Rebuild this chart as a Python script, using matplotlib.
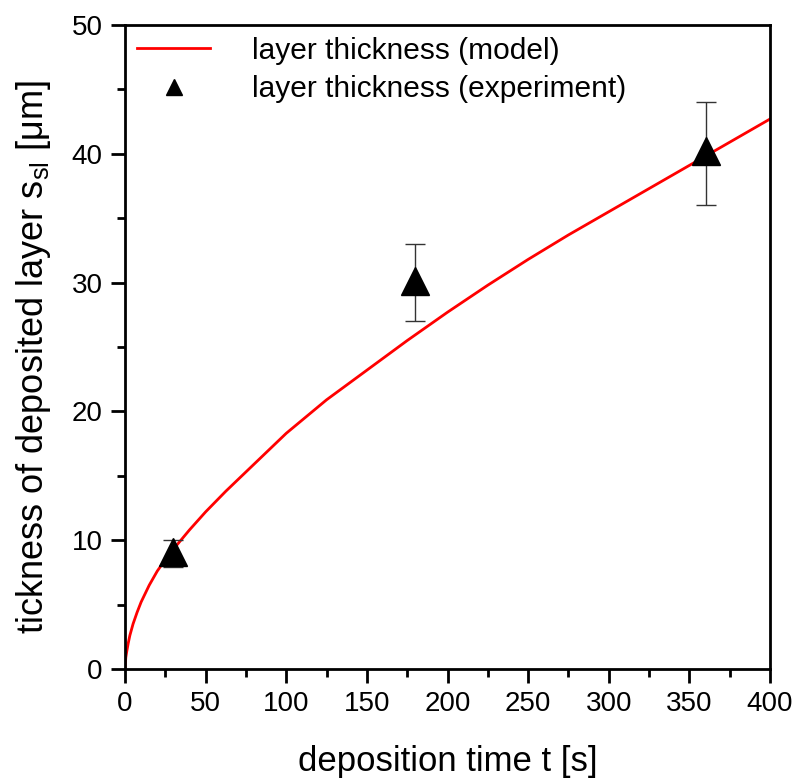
import matplotlib.pyplot as plt
from matplotlib.lines import Line2D

plt.rcParams['font.family'] = ['Liberation Sans', 'DejaVu Sans']

# model curve
t_model = [0, 0.5, 1, 2, 3, 5, 7.5, 10, 15, 20, 25, 30, 40, 50, 62.5, 75, 87.5, 100,
           125, 150, 175, 200, 225, 250, 275, 300, 325, 350, 375, 400]
s_model = [0, 0.9, 1.3, 2.0, 2.6, 3.5, 4.4, 5.2, 6.5, 7.6, 8.5, 9.3, 10.8, 12.2, 13.8, 15.3,
           16.8, 18.3, 20.9, 23.2, 25.5, 27.7, 29.8, 31.8, 33.7, 35.5, 37.3, 39.1, 40.9, 42.7]

# experiment
t_exp = [30, 180, 360]
s_exp = [9.1, 30.1, 40.2]
err_lo = [1.2, 3.1, 4.2]
err_hi = [0.9, 2.9, 3.8]

fig = plt.figure(figsize=(7.96, 7.80), dpi=100)
ax = fig.add_axes([125/796, 1 - 669/780, 645/796, 644/780])

ax.plot(t_model, s_model, color='red', lw=2, zorder=2)
ax.errorbar(t_exp, s_exp, yerr=[err_lo, err_hi], fmt='^', color='black', ms=20,
            ecolor='#333333', elinewidth=1, capsize=7, capthick=1, zorder=3)

ax.set_xlim(0, 400)
ax.set_ylim(0, 50)
ax.set_xticks(range(0, 401, 50))
ax.set_xticks(range(25, 400, 50), minor=True)
ax.set_yticks(range(0, 51, 10))
ax.set_yticks(range(5, 50, 10), minor=True)
ax.tick_params(which='major', direction='out', length=10, width=2, labelsize=20, pad=6)
ax.tick_params(which='minor', direction='out', length=5.5, width=2)
for sp in ax.spines.values():
    sp.set_linewidth(2)

ax.set_xlabel('deposition time t [s]', fontsize=25, labelpad=20)
ax.set_ylabel(r'tickness of deposited layer s$_{\mathregular{sl}}$ [$\mathregular{\mu}$m]',
              fontsize=26)
ax.yaxis.set_label_coords(-0.112, 0.485)

handles = [Line2D([], [], color='red', lw=2),
           Line2D([], [], ls='none', marker='^', color='black', ms=12)]
ax.legend(handles, ['layer thickness (model)', 'layer thickness (experiment)'],
          loc='upper left', frameon=False, fontsize=21.5, handlelength=2.45,
          handletextpad=1.4, borderaxespad=0.1, borderpad=0.3, labelspacing=0.35)

fig.savefig('out.png', dpi=100)
